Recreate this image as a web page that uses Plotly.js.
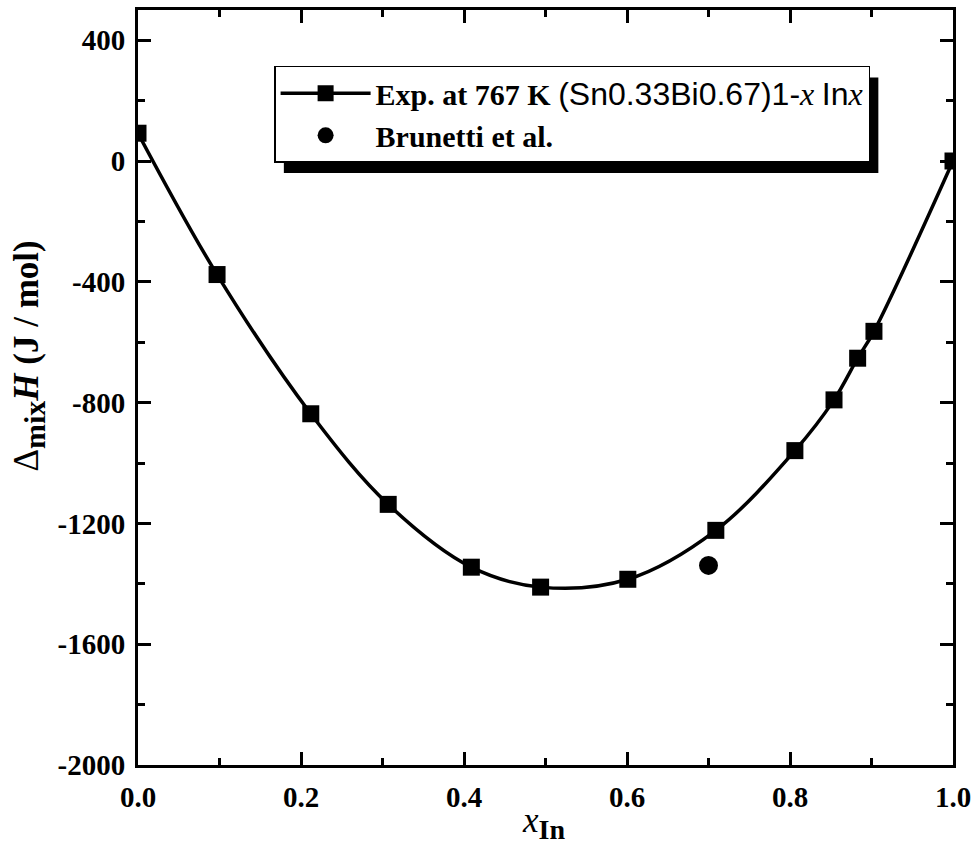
<!DOCTYPE html>
<html>
<head>
<meta charset="utf-8">
<script src="https://cdn.plot.ly/plotly-3.0.1.min.js"></script>
<style>html,body{margin:0;padding:0;background:#fff;}#chart{width:974px;height:847px;}</style>
</head>
<body>
<div id="chart"></div>
<script>
// Experimental data: (Sn0.33Bi0.67)1-x Inx at 767 K
var expX = [0.0, 0.097, 0.212, 0.307, 0.409, 0.494, 0.601, 0.709, 0.806, 0.854, 0.883, 0.903, 1.0];
var expY = [92, -376, -837, -1137, -1345, -1411, -1385, -1223, -959, -791, -653, -564, 0];
// Brunetti et al.
var brunX = [0.70];
var brunY = [-1339];
// Tick labels
var yTickVals = [400, 0, -400, -800, -1200, -1600, -2000];
var yTickText = ['400', '0', '-400', '-800', '-1200', '-1600', '-2000'];
var xTickVals = [0.0, 0.2, 0.4, 0.6, 0.8, 1.0];
var xTickText = ['0.0', '0.2', '0.4', '0.6', '0.8', '1.0'];

var SERIF = 'Liberation Serif';
var SANS = 'Liberation Sans';

var data = [
  {
    x: expX, y: expY, type: 'scatter', mode: 'lines+markers',
    name: 'Exp. at 767 K <span style="font-family:' + SANS + ';font-weight:normal;font-size:32px">(Sn0.33Bi0.67)1-</span><i style="font-weight:normal;font-size:32px">x</i> <span style="font-family:' + SANS + ';font-weight:normal;font-size:32px">In</span><i style="font-weight:normal;font-size:32px">x</i>',
    line: {color: '#000', width: 3.5, shape: 'spline', smoothing: 1},
    marker: {symbol: 'square', size: 17, color: '#000'}
  },
  {
    x: brunX, y: brunY, type: 'scatter', mode: 'markers',
    name: 'Brunetti et al.',
    marker: {symbol: 'circle', size: 19, color: '#000'}
  }
];

function axisBase() {
  return {
    showline: true, linewidth: 3, linecolor: '#000', mirror: 'allticks',
    ticks: 'inside', ticklen: 13, tickwidth: 3, tickcolor: '#000',
    showgrid: false, zeroline: false,
    tickfont: {family: SERIF, size: 29, color: '#000', weight: 'bold'},
    ticklabelstandoff: 4
  };
}

var layout = {
  width: 974, height: 847,
  margin: {l: 138, r: 21, t: 10, b: 82},
  paper_bgcolor: '#fff', plot_bgcolor: '#fff',
  font: {family: SERIF},
  showlegend: true,
  xaxis: Object.assign(axisBase(), {
    range: [0, 1], tickmode: 'array', tickvals: xTickVals, ticktext: xTickText,
    minor: {ticks: 'inside', ticklen: 7, tickwidth: 3, tickcolor: '#000', dtick: 0.1, showgrid: false}
  }),
  yaxis: Object.assign(axisBase(), {
    range: [-2000, 500], tickmode: 'array', tickvals: yTickVals, ticktext: yTickText,
    minor: {ticks: 'inside', ticklen: 7, tickwidth: 3, tickcolor: '#000', tick0: 0, dtick: 200, showgrid: false}
  }),
  legend: {
    x: 0.167, y: 0.926, xanchor: 'left', yanchor: 'top',
    bgcolor: '#fff', bordercolor: '#000', borderwidth: 1.5,
    font: {family: SERIF, size: 30, color: '#000', weight: 'bold'},
    itemwidth: 90, tracegroupgap: 0
  },
  annotations: [
    {
      xref: 'paper', yref: 'paper', x: -0.134, y: 0.542, xanchor: 'center', yanchor: 'middle',
      textangle: -90, showarrow: false,
      text: '<span style="font-weight:normal">Δ</span><sub><span style="font-size:30px">mix</span></sub><i>H</i> (J / mol)',
      font: {family: SERIF, size: 35, color: '#000', weight: 'bold'}
    },
    {
      xref: 'paper', yref: 'paper', x: 0.497, y: -0.077, xanchor: 'center', yanchor: 'middle',
      showarrow: false,
      text: '<i style="font-weight:normal">x</i><sub><span style="font-size:28px">In</span></sub>',
      font: {family: SERIF, size: 35, color: '#000', weight: 'bold'}
    }
  ]
};

var gd = document.getElementById('chart');
Plotly.newPlot(gd, data, layout, {displayModeBar: false, staticPlot: true}).then(function () {
  var bg = gd.querySelector('.legend .bg');
  if (!bg) return;
  var r = bg.getBoundingClientRect();
  var g = gd.getBoundingClientRect();
  var s = gd._fullLayout._size;
  var offX = 9, offY = 11;
  var x0 = (r.left - g.left + offX - s.l) / s.w;
  var x1 = (r.right - g.left + offX - s.l) / s.w;
  var y0 = 1 - (r.bottom - g.top + offY - s.t) / s.h;
  var y1 = 1 - (r.top - g.top + offY - s.t) / s.h;
  return Plotly.relayout(gd, {shapes: [{
    type: 'rect', xref: 'paper', yref: 'paper', x0: x0, x1: x1, y0: y0, y1: y1,
    fillcolor: '#000', line: {width: 0}, layer: 'above'
  }]});
});
</script>
</body>
</html>
